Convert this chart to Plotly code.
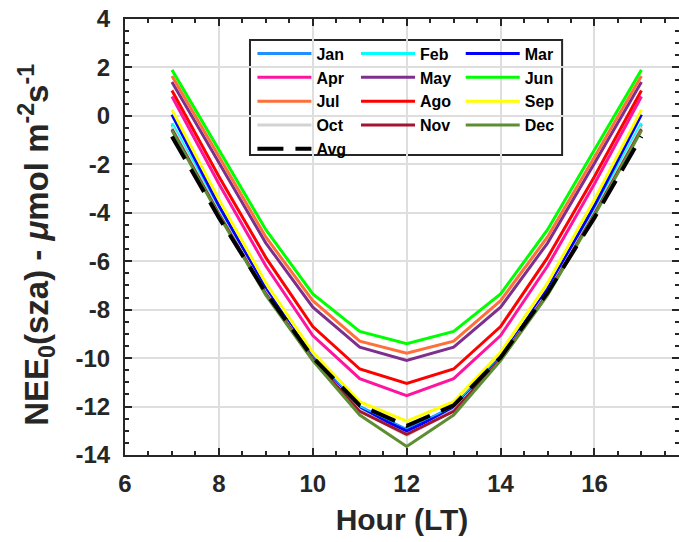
import plotly.graph_objects as go

hours = [7, 8, 9, 10, 11, 12, 13, 14, 15, 16, 17]

month_names = ["Jan", "Feb", "Mar", "Apr", "May", "Jun",
               "Jul", "Ago", "Sep", "Oct", "Nov", "Dec"]

jan = [-0.35, -3.90, -7.20, -9.95, -12.00, -12.95, -12.00, -9.95, -7.20, -3.90, -0.35]
feb = [-0.30, -3.90, -7.25, -10.00, -12.05, -13.00, -12.05, -10.00, -7.25, -3.90, -0.30]
mar = [0.05, -3.70, -7.15, -10.00, -12.10, -13.00, -12.10, -10.00, -7.15, -3.70, 0.05]
apr = [0.80, -2.80, -6.20, -9.07, -10.85, -11.55, -10.85, -9.07, -6.20, -2.80, 0.80]
may = [1.40, -1.95, -5.25, -7.90, -9.55, -10.10, -9.55, -7.90, -5.25, -1.95, 1.40]
jun = [1.90, -1.40, -4.70, -7.35, -8.90, -9.40, -8.90, -7.35, -4.70, -1.40, 1.90]
jul = [1.65, -1.70, -5.00, -7.63, -9.30, -9.80, -9.30, -7.63, -5.00, -1.70, 1.65]
ago = [1.05, -2.50, -5.85, -8.70, -10.45, -11.05, -10.45, -8.70, -5.85, -2.50, 1.05]
sep = [0.25, -3.45, -6.90, -9.76, -11.80, -12.60, -11.80, -9.76, -6.90, -3.45, 0.25]
oct_ = [-0.45, -4.00, -7.30, -10.05, -12.15, -13.20, -12.15, -10.05, -7.30, -4.00, -0.45]
nov = [-0.55, -4.05, -7.35, -10.05, -12.20, -13.15, -12.20, -10.05, -7.35, -4.05, -0.55]
dec = [-0.60, -4.10, -7.40, -10.10, -12.35, -13.65, -12.35, -10.10, -7.40, -4.10, -0.60]
avg = [-0.85, -4.20, -7.30, -9.97, -11.95, -12.80, -11.95, -9.97, -7.30, -4.20, -0.85]

month_values = [jan, feb, mar, apr, may, jun, jul, ago, sep, oct_, nov, dec]
month_colors = ["#1E90FF", "#00FFFF", "#0000FF", "#FF14A0", "#7E2F8E", "#00FF00",
                "#FF6F3A", "#FF0000", "#FFFF00", "#D3D3D3", "#A2142F", "#5E8E33"]

x_ticks = [6, 8, 10, 12, 14, 16]
y_ticks = [4, 2, 0, -2, -4, -6, -8, -10, -12, -14]

FONT = "Liberation Sans, Arial, sans-serif"
legend_ids = ["legend", "legend2", "legend3"]

fig = go.Figure()
for i, (name, vals, col) in enumerate(zip(month_names, month_values, month_colors)):
    fig.add_trace(go.Scatter(
        x=hours, y=vals, mode="lines", name=name,
        line=dict(color=col, width=3),
        legend=legend_ids[i % 3],
    ))
fig.add_trace(go.Scatter(
    x=hours, y=avg, mode="lines", name="Avg",
    line=dict(color="black", width=4, dash="26px,12px"),
    legend="legend",
))

leg_common = dict(
    font=dict(family=FONT, size=16, color="black", weight="bold"),
    bgcolor="rgba(0,0,0,0)", borderwidth=0, itemwidth=54,
    xanchor="left", yanchor="top", y=0.9595,
    tracegroupgap=0,
)

fig.update_layout(
    width=679, height=542,
    margin=dict(l=125, r=0, t=19, b=87, autoexpand=False),
    paper_bgcolor="white", plot_bgcolor="white",
    font=dict(family=FONT, color="#262626"),
    showlegend=True,
    legend=dict(x=0.230, **leg_common),
    legend2=dict(x=0.417, **leg_common),
    legend3=dict(x=0.606, **leg_common),
    xaxis=dict(
        range=[6, 17.8], tickvals=x_ticks,
        ticktext=[str(v) for v in x_ticks],
        tickfont=dict(family=FONT, size=24, color="#262626", weight="bold"),
        ticks="inside", ticklen=7, tickwidth=2, tickcolor="#262626",
        minor=dict(dtick=0.5, ticks="inside", ticklen=4, tickwidth=2,
                   tickcolor="#262626", showgrid=False),
        showline=True, linecolor="#262626", linewidth=2, mirror="ticks",
        showgrid=True, gridcolor="#DEDEDE", gridwidth=2,
        zeroline=False, ticklabelstandoff=6, automargin=False,
        title=dict(text="<b>Hour (LT)</b>",
                   font=dict(family=FONT, size=30, color="#262626"),
                   standoff=13),
    ),
    yaxis=dict(
        range=[-14, 4], tickvals=y_ticks,
        ticktext=[str(v) for v in y_ticks],
        tickfont=dict(family=FONT, size=24, color="#262626", weight="bold"),
        ticks="inside", ticklen=7, tickwidth=2, tickcolor="#262626",
        minor=dict(dtick=0.5, ticks="inside", ticklen=4, tickwidth=2,
                   tickcolor="#262626", showgrid=False),
        showline=True, linecolor="#262626", linewidth=2, mirror="ticks",
        showgrid=True, gridcolor="#DEDEDE", gridwidth=2,
        zeroline=False, ticklabelstandoff=8, automargin=False,
    ),
    annotations=[dict(
        text="<b>NEE<sub>0</sub>(sza) - <i>μ</i>mol m<sup>-2</sup>s<sup>-1</sup></b>",
        xref="paper", yref="paper", x=-0.159, y=0.482,
        xanchor="center", yanchor="middle", textangle=-90, showarrow=False,
        font=dict(family=FONT, size=33, color="#262626"),
    )],
    shapes=[dict(type="rect", xref="paper", yref="paper",
                 x0=0.2256, x1=0.789, y0=0.688, y1=0.952,
                 line=dict(color="#262626", width=2),
                 fillcolor="white", layer="below")],
)

fig.write_html(
    "out.html",
    config={"displayModeBar": False},
    post_script="document.body.style.margin='0';document.body.style.overflow='hidden';",
)
